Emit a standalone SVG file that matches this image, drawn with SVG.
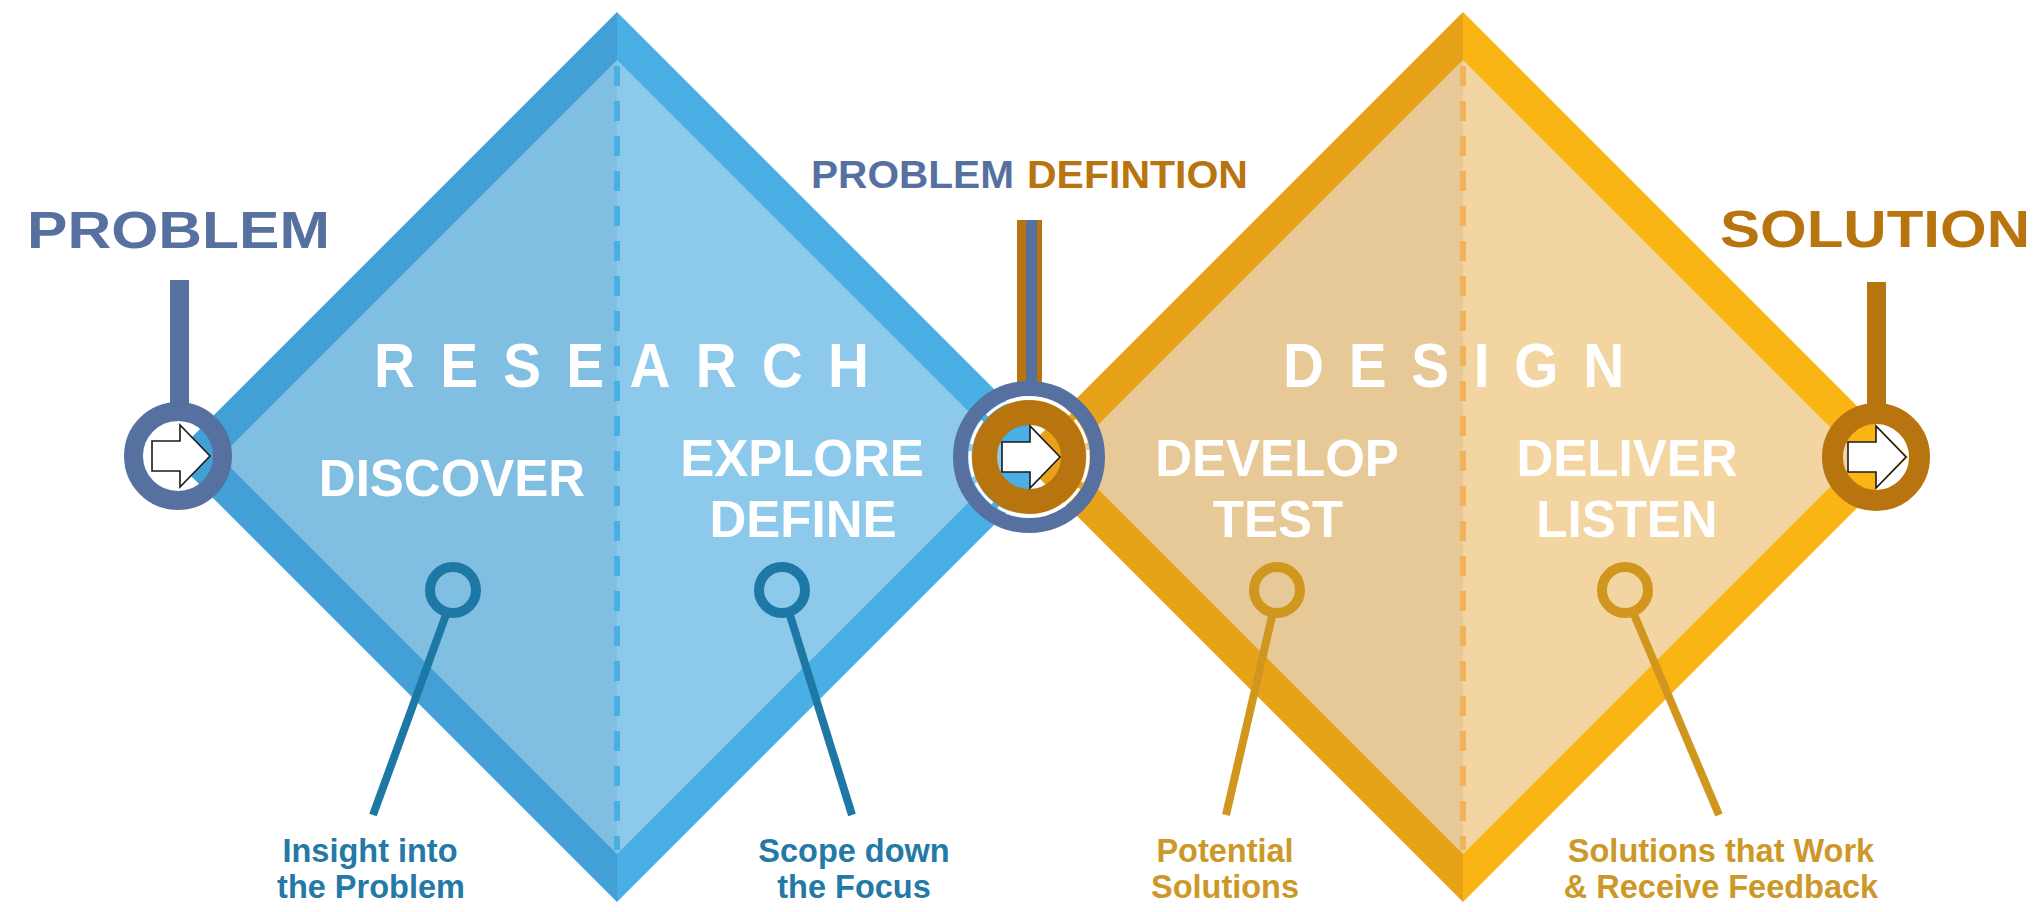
<svg xmlns="http://www.w3.org/2000/svg" width="2039" height="912" viewBox="0 0 2039 912">
<defs>
<style>
.t{font-family:"Liberation Sans",Arial,sans-serif;font-weight:bold}
.wh{fill:#ffffff}
.big{font-size:51px;text-anchor:middle}
.head{font-size:63px}
.lbl{font-size:32.5px;text-anchor:middle}
.lb{fill:#2479a6}
.lo{fill:#cc9828}
.slate{fill:#56719f}
.brown{fill:#b8740e}
.arrow{fill:#ffffff;stroke:#1a1a1a;stroke-width:1.6}
.pinb{fill:none;stroke:#1e78a6;stroke-width:10}
.pino{fill:none;stroke:#d0961e;stroke-width:10}
.stemb{stroke:#1e78a6;stroke-width:8}
.stemo{stroke:#d0961e;stroke-width:8}
.dashb{stroke:#4aafe4;stroke-width:6;stroke-dasharray:20 15}
.dasho{stroke:#f2b25c;stroke-width:6;stroke-dasharray:20 15}
</style>
<polygon id="arr" points="-26,-15 2,-15 2,-31 32,0 2,31 2,15 -26,15"/>
</defs>
<rect width="2039" height="912" fill="#ffffff"/>

<g id="research-diamond">
<polygon points="617,12 172,457 617,902" fill="#42a0d6"/>
<polygon points="617,12 1062,457 617,902" fill="#4aafe4"/>
<polygon points="617,60 220,457 617,854" fill="#80bee2"/>
<polygon points="617,60 1014,457 617,854" fill="#8cc9ea"/>
<line x1="617" y1="66" x2="617" y2="850" class="dashb"/>
<text class="t wh head" transform="translate(374,387) scale(0.9,1)" textLength="550" lengthAdjust="spacing">RESEARCH</text>
<text class="t wh big" x="452" y="496">DISCOVER</text>
<text class="t wh big" x="802" y="476">EXPLORE</text>
<text class="t wh big" x="803" y="537">DEFINE</text>
</g>

<g id="design-diamond">
<polygon points="1463,12 1018,457 1463,902" fill="#e8a21a"/>
<polygon points="1463,12 1908,457 1463,902" fill="#fab414"/>
<polygon points="1463,60 1066,457 1463,854" fill="#e7c897"/>
<polygon points="1463,60 1860,457 1463,854" fill="#f3d5a1"/>
<line x1="1463" y1="66" x2="1463" y2="850" class="dasho"/>
<text class="t wh head" transform="translate(1283,387) scale(0.9,1)" textLength="379" lengthAdjust="spacing">DESIGN</text>
<text class="t wh big" x="1277" y="476">DEVELOP</text>
<text class="t wh big" x="1278" y="537">TEST</text>
<text class="t wh big" x="1627" y="476">DELIVER</text>
<text class="t wh big" x="1627" y="537">LISTEN</text>
</g>

<g id="connectors">
<line x1="447" y1="612" x2="373" y2="815" class="stemb"/>
<line x1="789" y1="612" x2="852" y2="815" class="stemb"/>
<line x1="1273" y1="612" x2="1226" y2="815" class="stemo"/>
<line x1="1633" y1="612" x2="1719" y2="815" class="stemo"/>
<rect x="170" y="280" width="19" height="130" fill="#56719f"/>
<rect x="1867" y="282" width="19" height="128" fill="#b8740e"/>
<rect x="1017" y="220" width="25" height="165" fill="#b8740e"/>
<rect x="1026" y="220" width="11" height="165" fill="#56719f"/>
</g>

<g id="node-problem">
<text class="t slate" x="27" y="248" font-size="52" textLength="303" lengthAdjust="spacingAndGlyphs">PROBLEM</text>
<circle cx="178" cy="456" r="44.5" fill="none" stroke="#56719f" stroke-width="19"/>
<use href="#arr" class="arrow" transform="translate(178,456)"/>
</g>

<g id="node-problem-definition">
<text class="t slate" x="811" y="188" font-size="39" textLength="203" lengthAdjust="spacingAndGlyphs">PROBLEM</text>
<text class="t brown" x="1027" y="188" font-size="39" textLength="221" lengthAdjust="spacingAndGlyphs">DEFINTION</text>
<circle cx="1029" cy="457" r="68.5" fill="none" stroke="#56719f" stroke-width="15"/>
<circle cx="1029" cy="457" r="59" fill="none" stroke="#ffffff" stroke-width="3" stroke-dasharray="26 7"/>
<circle cx="1029" cy="457" r="44.5" fill="none" stroke="#b8740e" stroke-width="25"/>
<use href="#arr" class="arrow" transform="translate(1028,457)"/>
</g>

<g id="node-solution">
<text class="t brown" x="1720" y="247" font-size="52" textLength="310" lengthAdjust="spacingAndGlyphs">SOLUTION</text>
<circle cx="1876" cy="457" r="43.5" fill="none" stroke="#b8740e" stroke-width="21"/>
<use href="#arr" class="arrow" transform="translate(1874,457)"/>
</g>

<g id="pin-discover">
<circle cx="453" cy="590" r="23" class="pinb"/>
<text class="t lbl lb" x="370" y="862">Insight into</text>
<text class="t lbl lb" x="371" y="898">the Problem</text>
</g>
<g id="pin-define">
<circle cx="782" cy="590" r="23" class="pinb"/>
<text class="t lbl lb" x="854" y="862">Scope down</text>
<text class="t lbl lb" x="854" y="898">the Focus</text>
</g>
<g id="pin-develop">
<circle cx="1277" cy="590" r="23" class="pino"/>
<text class="t lbl lo" x="1225" y="862">Potential</text>
<text class="t lbl lo" x="1225" y="898">Solutions</text>
</g>
<g id="pin-deliver">
<circle cx="1625" cy="590" r="23" class="pino"/>
<text class="t lbl lo" x="1721" y="862">Solutions that Work</text>
<text class="t lbl lo" x="1721" y="898">&amp; Receive Feedback</text>
</g>
</svg>
